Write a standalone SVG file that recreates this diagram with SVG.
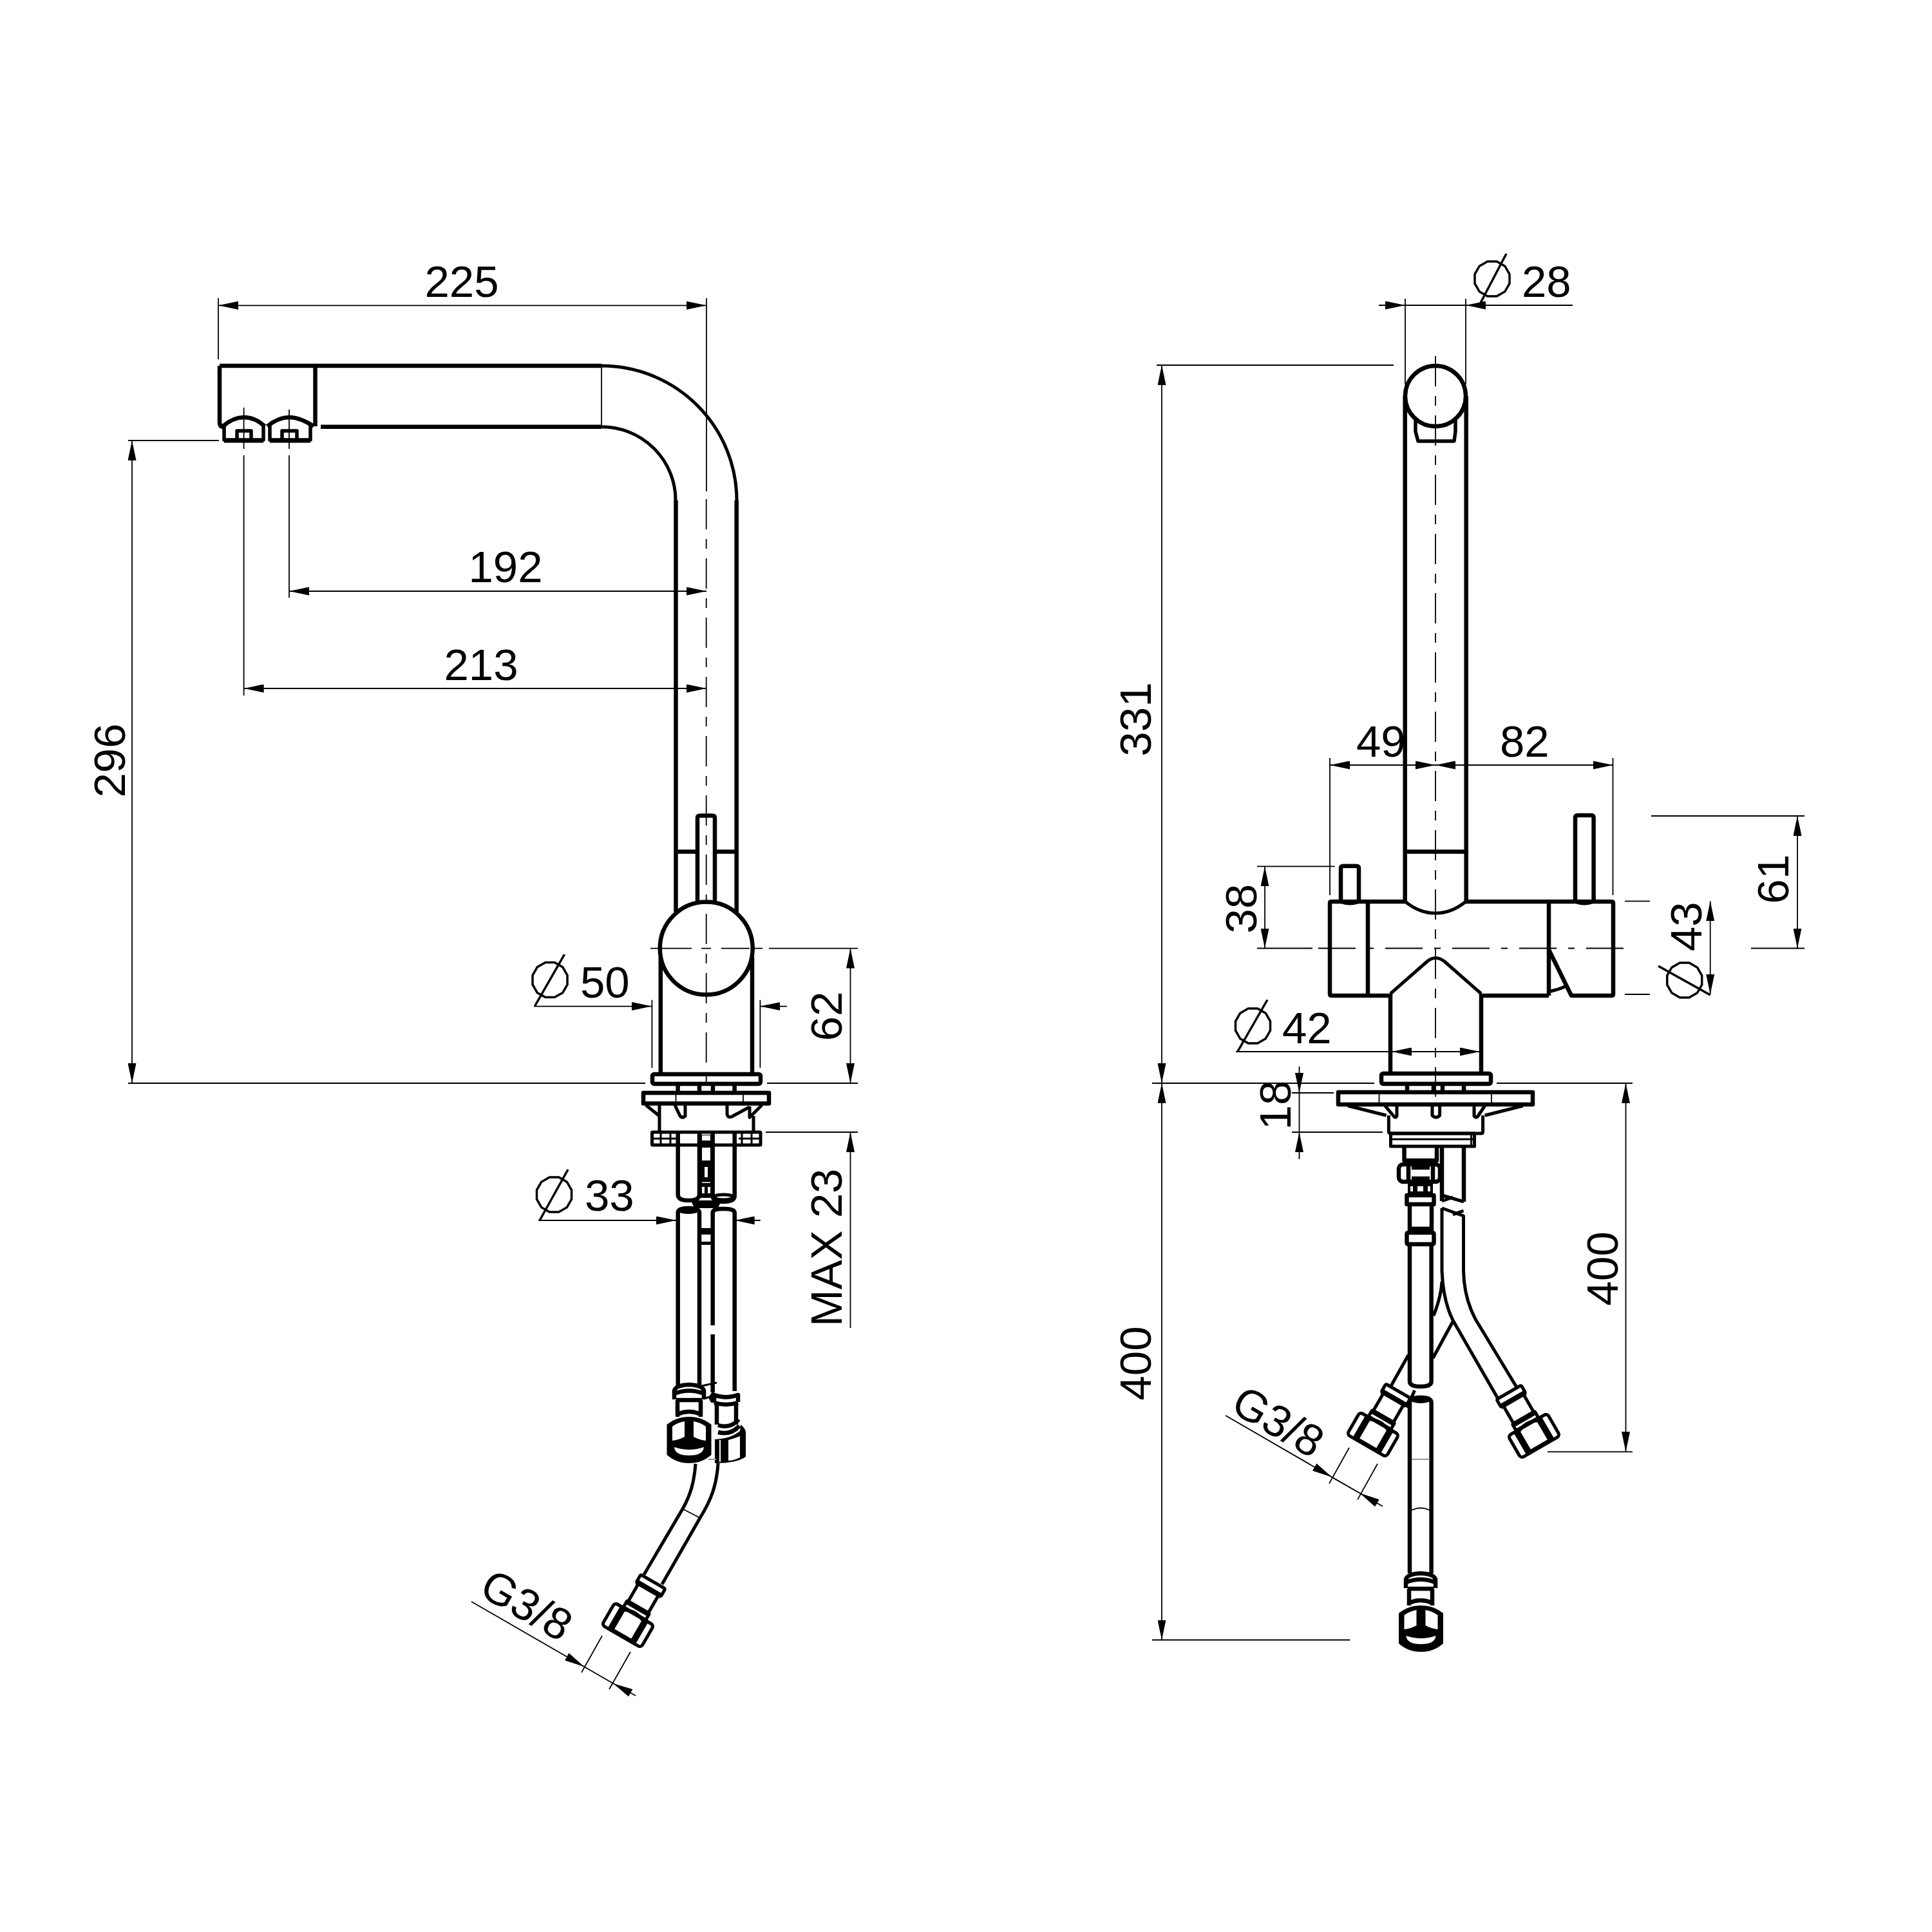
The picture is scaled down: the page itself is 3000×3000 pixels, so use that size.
<svg xmlns="http://www.w3.org/2000/svg" xmlns:xlink="http://www.w3.org/1999/xlink" width="3000" height="3000" viewBox="0 0 3000 3000">
<style>
.bg{fill:#fff}
.k{fill:none;stroke:#000;stroke-width:6.5;stroke-linejoin:round}
.m{fill:none;stroke:#000;stroke-width:5;stroke-linejoin:round}
.s{fill:none;stroke:#000;stroke-width:3}
.t{fill:none;stroke:#000;stroke-width:1.8}
.g{fill:none;stroke:#999;stroke-width:2}
.b{fill:#000;stroke:none}
.w{fill:#fff;stroke:none}
.cl{fill:none;stroke:#000;stroke-width:1.8;stroke-dasharray:47 15 15 15}
.ch{fill:none;stroke:#000;stroke-width:1.8;stroke-dasharray:58 18 10 18}
.a{fill:none;stroke:#000;stroke-width:1.8;marker-end:url(#arr)}
.phi{fill:none;stroke:#000;stroke-width:3.5}
text{font-family:"Liberation Sans",Arial,sans-serif;font-size:69px;fill:#000}
.mid{text-anchor:middle}
</style>
<defs>
<marker id="arr" markerUnits="userSpaceOnUse" viewBox="0 0 31 13" markerWidth="31" markerHeight="13" refX="31" refY="6.5" orient="auto"><path d="M0,0 L31,6.5 L0,13Z" fill="#000"/></marker>
<polygon id="ph" points="27,7.2 19.8,19.8 7.2,27 -7.2,27 -19.8,19.8 -27,7.2 -27,-7.2 -19.8,-19.8 -7.2,-27 7.2,-27 19.8,-19.8 27,-7.2"/>
<g id="nutFront">
<path class="b" d="M-34.5,12 C-24,4 -14,0 0,0 C14,0 24,4 34.5,12 V59 Q20,72 0,72 Q-20,72 -34.5,59Z"/>
<path class="w" d="M-26,15 Q-18,9 -7,7 V31 Q-16,36 -26,37Z M26,15 Q18,9 7,7 V31 Q16,36 26,37Z M-23,47 Q0,55 23,47 Q22,60 0,60 Q-22,60 -23,47Z"/>
</g>
<g id="fitFront">
<path class="k" d="M-23,23 V9 Q-20,1 0,0 Q20,1 23,9 V23 M-23,14 Q0,5 23,14"/>
<path class="k" d="M-18,24 V50 M18,24 V50 M-20,24 H20 M-18,46 Q0,38 18,46"/>
</g>
<g id="fitSide">
<rect class="m" x="-22" y="0" width="44" height="14" rx="2"/>
<path class="k" d="M-22,13 H22" style="stroke-width:8"/>
<path class="m" d="M-18,14 V48 M18,14 V48"/>
<rect class="m" x="-20" y="46" width="40" height="11" rx="1"/>
<path class="k" d="M-20,47 H20" style="stroke-width:8"/>
<rect class="m" x="-35" y="58" width="70" height="40" rx="5"/>
<path class="k" d="M-20,58 V98 M20,58 V98" style="stroke-width:10"/>
<path class="m" d="M-16,60 Q0,52 16,60 M-16,96 H16"/>
</g>
</defs>
<rect class="bg" width="3000" height="3000"/>

<g id="faucet-side">
<path class="k" d="M489.5,662 V568 M341,568 H489.5 M498,662.7 H934 M341,568 V655 Q341,663 347,663"/>
<path class="m" d="M934,568 A210,209 0 0 1 1144,777 M934,662.7 A115,114 0 0 1 1049,777"/>
<path class="k" d="M489,568 H934 M1049.5,777 V1416 M1143.7,777 V1416 M1049.5,1322.5 H1083 M1110,1322.5 H1143.7"/>
<path class="t" d="M934,568 V662"/>
<path class="k" d="M1083,1399 V1270 Q1083,1266.6 1087,1266.6 H1106 Q1110,1266.6 1110,1270 V1399"/>
<circle class="k" cx="1096.7" cy="1472.6" r="72" style="fill:#fff"/>
<path class="k" d="M1025.8,1486 V1667 M1168,1486 V1667"/>
<rect class="k" x="1013" y="1668" width="168" height="15" rx="3"/>
<path class="k" d="M1052.6,1683 V1696 M1086,1683 V1696 M1107,1683 V1696 M1140.6,1683 V1696"/>
<rect class="k" x="999" y="1697" width="195" height="16.5"/>
<path class="t" d="M1049.5,1698 V1713 M1154,1698 V1713"/>
<path class="m" d="M1003,1716 L1024,1733 M1024,1716 V1758 M1170,1733 V1758 M1183,1716 L1164,1735 V1718"/>
<path class="m" d="M1048,1716 L1056,1733 Q1060,1737 1064,1733 V1716 M1129,1716 V1730 Q1130,1736 1136,1734 L1164,1719"/>
<rect class="m" x="1012.5" y="1758" width="168.5" height="20" rx="1"/>
<path class="s" d="M1012.5,1768 H1050 M1147,1768 H1181 M1026,1759 V1777 M1041,1759 V1777 M1152,1759 V1777 M1167,1759 V1777"/>
<path class="k" d="M1052.7,1760 V1855 Q1052.7,1864 1069,1864 Q1086,1864 1086,1855 V1760 M1106.7,1760 V1857 Q1106.7,1866 1123,1866 Q1140.7,1866 1140.7,1857 V1760"/>
<ellipse class="m" cx="1123.5" cy="1859" rx="15" ry="4"/>
<path class="b" d="M1086,1762 H1107 V1860 H1086Z"/>
<path class="w" d="M1090,1763 H1103 V1771 H1090Z M1090,1782 H1103 V1802 H1090Z M1094,1812 H1099 V1828 H1094Z M1090,1835.5 H1103 V1837 H1090Z M1090,1843 H1094 V1853 H1090Z M1099,1843 H1103 V1853 H1099Z"/>
<path class="b" d="M1073,1864 H1120 L1115,1876 H1078Z"/>
<path class="k" d="M1052.7,2152 V1883 Q1052.7,1876 1069,1876 Q1086,1876 1086,1883 V2152 M1106.7,2058 V1883 Q1106.7,1877 1123,1877 Q1140.7,1877 1140.7,1883 V2160 M1106.7,2072 V2162"/>
<ellipse class="b" cx="1069" cy="1881" rx="15" ry="4"/>
<path class="b" d="M1086,1907 H1107 V1917 H1086Z M1086,1928 H1107 V1933 H1086Z"/>
<path class="s" d="M1090,2152 L1113,2147 M1092,2172 L1106,2168"/>
<path class="b" d="M1108,2158 L1100,2170 L1104,2178 H1112Z"/>
<use xlink:href="#fitFront" href="#fitFront" x="1070" y="2150"/>
<use xlink:href="#nutFront" href="#nutFront" x="1070" y="2200"/>
<path class="k" d="M1109,2177 V2166 Q1127,2173 1146,2166 V2177 M1109,2178 Q1127,2184 1146,2178"/>
<path class="k" d="M1113,2180 V2212 M1143,2180 V2212"/>
<path class="k" d="M1115,2213 Q1135,2219 1147,2204 M1115,2224 Q1135,2229 1148,2214"/>
<path class="b" d="M1110,2235 Q1135,2234 1149,2222 L1150,2212 Q1158,2218 1158,2225 V2262 Q1145,2272 1110,2272Z"/>
<path class="w" d="M1131,2236 Q1142,2233 1149,2230 V2263 Q1140,2268 1131,2268Z M1117,2236 H1119 V2270 H1117Z"/>
<path class="m" d="M1080,2273 C1078,2300 1073,2320 1060,2343 L1000,2445 M1115,2272 C1113,2305 1105,2328 1087,2357 L1028,2460"/>
<path class="t" d="M1060,2343 L1087,2357"/>
<use xlink:href="#fitSide" href="#fitSide" transform="translate(1014,2456) rotate(30)"/>
<path class="g" d="M1100,2266 H1112"/>
<path class="k" d="M346,662 Q362,648 378.6,648 Q396,648 411,662 M415,662 Q432,648 449,648 Q466,648 487,662"/>
<path class="k" d="M348,658 V683 H409 V658 M419,658 V683 H482 V658 M368,683 V669 H390 V683 M438,683 V669 H461 V683" style="stroke-width:5.5"/>
<path class="k" d="M348,686 H409 M419,686 H482" style="stroke-width:3"/>
</g>

<g id="faucet-front">
<circle class="k" cx="2229" cy="615" r="47" style="fill:#fff"/>
<path class="k" d="M2181.7,615 V1399 M2276.7,615 V1399 M2182,1322.6 H2276"/>
<path class="k" d="M2198,652 V670 L2202,685 H2258 L2260,670 V652" style="stroke-width:5.5"/>
<path class="k" d="M2067,1400 H2182 M2276,1400 H2503 Q2505,1400 2505,1403 V1543 Q2505,1546 2503,1546 H2440 L2405,1474.6 M2067,1400 Q2065,1400 2065,1403 V1543 Q2065,1546 2067,1546 H2159 M2300,1546 H2405 M2124,1400 V1546 M2405,1400 V1546"/>
<path class="m" d="M2182,1400 Q2204,1418 2229,1418 Q2254,1418 2276,1400 M2405,1539.5 Q2420,1537 2432.5,1530.7 M2159,1543 L2216,1493 Q2229,1482 2243,1493 L2300,1543"/>
<path class="k" d="M2159,1543 V1667.5 M2300,1543 V1667.5"/>
<path class="k" d="M2082,1400 V1348 Q2082,1344.7 2086,1344.7 H2106 Q2110,1344.7 2110,1348 V1400 M2446,1400 V1270 Q2446,1266 2450,1266 H2471 Q2474.6,1266 2474.6,1270 V1400"/>
<path class="s" d="M2084,1402 Q2096,1406 2108,1402 M2448,1402 Q2460,1406 2472,1402"/>
<rect class="k" x="2145" y="1667" width="170" height="16" rx="3"/>
<path class="k" d="M2185,1683 V1696 M2226,1683 V1696 M2240,1683 V1696 M2273,1683 V1696"/>
<rect class="k" x="2078" y="1696" width="302" height="19"/>
<path class="t" d="M2141.5,1697 V1714 M2316,1697 V1714"/>
<path class="m" d="M2093,1717 L2152.6,1732 M2365,1717 L2305.7,1732 M2150.7,1717 L2164,1733 Q2167,1737 2169,1733 V1717 M2224,1717 V1732 Q2230,1738 2235.6,1732 V1717 M2289,1717 V1733 Q2292,1737 2295,1733 L2305.7,1717"/>
<path class="m" d="M2156.4,1732 V1757 Q2156.4,1760 2160,1760 H2300 Q2302.6,1760 2302.6,1757 V1732"/>
<rect class="m" x="2159.5" y="1760" width="130" height="20"/>
<path class="s" d="M2160,1769 H2289 M2284.6,1761 V1779"/>
<path class="k" d="M2180.5,1780 V1802 H2231 V1780"/>
<rect class="k" x="2172" y="1808" width="64" height="27" rx="7"/>
<path class="k" d="M2187,1808 V1835 M2225,1808 V1835 M2192,1813 H2220 M2192,1830 H2220"/>
<path class="b" d="M2186,1837 H2225 V1855 H2186Z"/>
<path class="w" d="M2201,1842 H2210 V1850 H2201Z M2190,1842 H2194 V1850 H2190Z M2217,1842 H2221 V1850 H2217Z"/>
<rect class="k" x="2184.5" y="1856" width="42" height="14"/>
<path class="k" d="M2189,1870 V1913 M2223,1870 V1913 M2189,1908 H2223"/>
<rect class="k" x="2184.5" y="1914" width="42" height="18" rx="2"/>
<path class="k" d="M2189,1932 V2145 Q2189,2153 2206,2153 Q2222.6,2153 2222.6,2145 V1932"/>
<path class="k" d="M2189,2443 V2178 Q2189,2170 2206,2170 Q2222.6,2170 2222.6,2178 V2443"/>
<ellipse class="b" cx="2206" cy="2174" rx="15" ry="5"/>
<path class="g" d="M2192,2266 H2220"/>
<path class="t" d="M2192,2345 Q2206,2338 2220,2345"/>
<path class="k" d="M2239,1780 V1865 M2273,1780 V1866"/>
<path class="m" d="M2239,1856 L2273,1866 M2239,1865 L2256,1859"/>
<path class="k" d="M2239,1876 V1973 M2256,1886 L2272.5,1880" style="stroke-width:5"/>
<path class="m" d="M2239,1876 L2272.5,1888 V1973"/>
<path class="m" d="M2239,1973 C2240,2000 2245,2028 2256,2050 L2325,2170 M2272.5,1973 C2273,2005 2281,2030 2292,2050 L2355,2154 M2239,1990 C2238,2010 2232,2028 2226,2043 M2256,2052 L2225,2109 M2187,2104 L2160,2152 M2196.6,2159 L2185,2186"/>
<use xlink:href="#fitSide" href="#fitSide" transform="translate(2171,2160) rotate(30)"/>
<use xlink:href="#fitSide" href="#fitSide" transform="translate(2343,2162) rotate(-30)"/>
<use xlink:href="#fitFront" href="#fitFront" x="2206" y="2443"/>
<use xlink:href="#nutFront" href="#nutFront" x="2206.5" y="2493"/>
</g>

<g id="dimensions">
<path class="t" d="M339,463 V558 M1097,463 V763 M378.6,633 V697 M378.6,707 V1080 M449,636 V697 M449,707 V928 M199,684 H340 M199,1682 H1002 M1191,1682 H1332 M1194,1472.6 H1332 M1189,1758 H1332 M1012.4,1552.7 V1658 M1180.4,1552.7 V1658"/>
<path class="cl" d="M1096.7,775 V1700"/>
<path class="t" d="M1010,1472.6 H1074 M1089,1472.6 H1104 M1120,1472.6 H1164 M1169,1472.6 H1184"/>
<path class="a" d="M700,474.3 H339"/><path class="a" d="M700,474.3 H1097"/>
<path class="a" d="M800,918 H449"/><path class="a" d="M800,918 H1097"/>
<path class="a" d="M800,1069 H378.6"/><path class="a" d="M800,1069 H1097"/>
<path class="a" d="M205,1200 V684"/><path class="a" d="M205,1200 V1682"/>
<path class="a" d="M829,1562.6 H1012"/><path class="a" d="M1222,1562.6 H1180.4"/>
<path class="a" d="M1320.5,1580 V1472.6"/><path class="a" d="M1320.5,1580 V1682"/>
<path class="a" d="M1320.5,2062 V1758"/>
<path class="a" d="M836,1895 H1050"/><path class="a" d="M1180.7,1895 H1140.7"/>
<path class="a" d="M732,2487 L907,2588"/><path class="a" d="M987,2633 L952,2614"/><path class="t" d="M907,2588 L952,2614"/>
<path class="t" d="M935,2540 L903,2597 M979,2565 L946,2623"/>

<path class="t" d="M2182,464 V597 M2276,464 V597 M1796,567 H2164 M1789,1682 H2134 M2324,1682 H2535 M1789,2546.5 H2096 M2403,2254.3 H2535 M2065,1177 V1390 M2504.5,1177 V1390 M1952,1345.4 H2072.6 M1952,1472.5 H2038 M2523,1399.3 H2562 M2523,1544 H2562 M2564,1267 H2802 M2719,1472.5 H2802 M2006,1697 H2071 M2006,1758 H2147"/>
<path class="cl" d="M2229,553 V1703"/>
<path class="ch" d="M2047,1472.5 H2524"/>
<path class="a" d="M2141,474 H2182"/><path class="t" d="M2182,474 H2276"/><path class="a" d="M2442,474 H2276"/>
<path class="a" d="M1804,1100 V567"/><path class="a" d="M1804,1100 V1682"/>
<path class="a" d="M1804,2100 V1682"/><path class="a" d="M1804,2100 V2546.5"/>
<path class="a" d="M2524.5,2000 V1682"/><path class="a" d="M2524.5,2000 V2254.3"/>
<path class="a" d="M2150,1188 H2065"/><path class="a" d="M2150,1188 H2229"/><path class="a" d="M2350,1188 H2229"/><path class="a" d="M2350,1188 H2504.5"/>
<path class="a" d="M1964,1410 V1345.4"/><path class="a" d="M1964,1410 V1472.5"/>
<path class="a" d="M2655.7,1470 V1399.3"/><path class="a" d="M2655.7,1470 V1544"/>
<path class="a" d="M2791,1370 V1267"/><path class="a" d="M2791,1370 V1472.5"/>
<path class="t" d="M1919,1633 H2161"/><path class="a" d="M2229,1633 H2161"/><path class="a" d="M2229,1633 H2298"/>
<path class="a" d="M2017.5,1656 V1697"/><path class="a" d="M2017.5,1800 V1758"/><path class="t" d="M2017.5,1697 V1758"/>
<path class="a" d="M1903,2198 L2068,2293.6"/><path class="a" d="M2147,2339 L2111.6,2318.6"/><path class="t" d="M2068,2293.6 L2111.6,2318.6"/>
<path class="t" d="M2095,2248 L2064,2303.6 M2139,2273 L2108,2328.6"/>

<g class="phis">
<use xlink:href="#ph" href="#ph" class="phi" x="854" y="1521.6"/><path class="phi" d="M830.6,1562 L876.5,1482"/>
<use xlink:href="#ph" href="#ph" class="phi" x="860.5" y="1855"/><path class="phi" d="M838,1895 L882,1816"/>
<use xlink:href="#ph" href="#ph" class="phi" x="2317" y="433"/><path class="phi" d="M2297,474 L2339,394"/>
<use xlink:href="#ph" href="#ph" class="phi" x="1945.5" y="1593"/><path class="phi" d="M1921.7,1633 L1968,1552.5"/>
<use xlink:href="#ph" href="#ph" class="phi" x="2615.7" y="1522"/><path class="phi" d="M2575,1500 L2655.7,1545"/>
</g>

<text class="mid" x="717" y="461">225</text>
<text class="mid" x="785" y="904">192</text>
<text class="mid" x="747" y="1056">213</text>
<text class="mid" transform="translate(194,1181) rotate(-90)">296</text>
<text x="901" y="1548.5">50</text>
<text class="mid" transform="translate(1307,1578) rotate(-90)">62</text>
<text x="908" y="1880">33</text>
<text transform="translate(1307,2060) rotate(-90)">MAX 23</text>
<text class="mid" transform="translate(806,2513) rotate(30)">G3/8</text>
<text x="2363" y="461">28</text>
<text class="mid" transform="translate(1787,1117) rotate(-90)">331</text>
<text x="2106" y="1175">49</text>
<text x="2329" y="1175">82</text>
<text class="mid" transform="translate(1951,1411) rotate(-90)">38</text>
<text class="mid" transform="translate(2777,1365) rotate(-90)">61</text>
<text transform="translate(2642,1477) rotate(-90)">43</text>
<text x="1991" y="1619.5">42</text>
<text class="mid" transform="translate(2004,1716) rotate(-90)">18</text>
<text class="mid" transform="translate(1787,2117) rotate(-90)">400</text>
<text class="mid" transform="translate(2512,1970) rotate(-90)">400</text>
<text class="mid" transform="translate(1973,2228) rotate(30)">G3/8</text>
</g>
</svg>
